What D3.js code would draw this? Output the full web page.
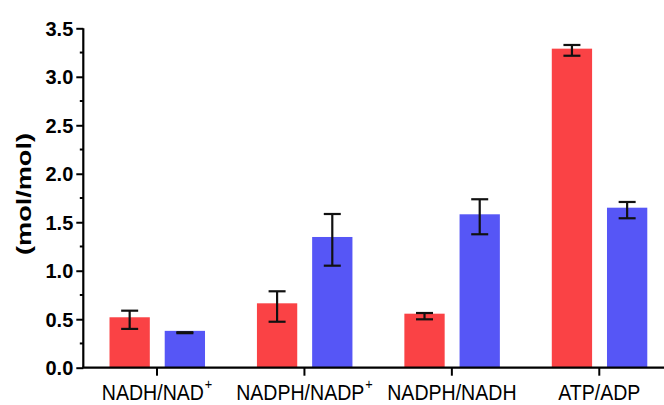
<!DOCTYPE html>
<html><head><meta charset="utf-8">
<script src="https://cdn.jsdelivr.net/npm/d3@7"></script>
<style>body{margin:0;background:#fff}svg{display:block}</style>
</head><body>
<svg id="c" width="664" height="405"></svg>
<script>
const categories = ["NADH/NAD", "NADPH/NADP", "NADPH/NADH", "ATP/ADP"];
const superscripts = ["+", "+", "", ""];
const seriesNames = ["A", "B"];
const redValues = [0.52, 0.664, 0.557, 3.29];
const redErrLow = [0.40, 0.474, 0.499, 3.217];
const redErrHigh = [0.588, 0.788, 0.564, 3.328];
const blueValues = [0.38, 1.348, 1.582, 1.65];
const blueErrLow = [0.356, 1.052, 1.376, 1.541];
const blueErrHigh = [0.366, 1.585, 1.737, 1.709];
const yTicks = [0, 0.5, 1.0, 1.5, 2.0, 2.5, 3.0, 3.5];
const yMinorTicks = [0.25, 0.75, 1.25, 1.75, 2.25, 2.75, 3.25];
const colors = ["#fa4245", "#5656f6"];

const svg = d3.select("#c");
const x0 = 83.3, y0 = 367.7;
const x = d3.scaleBand().domain(categories).range([x0, 673]).paddingInner(0).paddingOuter(0);
const xs = d3.scaleBand().domain(seriesNames).range([x.bandwidth()/2 - 47.5, x.bandwidth()/2 + 48]).paddingInner(0.27).paddingOuter(0);
const y = d3.scaleLinear().domain([0, 3.5]).range([y0, 28.3]);

const data = categories.map((c, i) => [
  {cat: c, s: "A", v: redValues[i], lo: redErrLow[i], hi: redErrHigh[i], col: colors[0]},
  {cat: c, s: "B", v: blueValues[i], lo: blueErrLow[i], hi: blueErrHigh[i], col: colors[1]}
]).flat();

// bars
svg.append("g").selectAll("rect").data(data).join("rect")
  .attr("x", d => x(d.cat) + xs(d.s))
  .attr("width", xs.bandwidth())
  .attr("y", d => y(d.v))
  .attr("height", d => y(0) - y(d.v))
  .attr("fill", d => d.col);

// error bars
const eg = svg.append("g").attr("stroke", "#111").attr("stroke-width", 2.2).attr("fill", "none");
data.forEach(d => {
  const cx = x(d.cat) + xs(d.s) + xs.bandwidth()/2;
  const cw = 8.5;
  eg.append("line").attr("x1", cx).attr("x2", cx).attr("y1", y(d.lo)).attr("y2", y(d.hi));
  eg.append("line").attr("x1", cx - cw).attr("x2", cx + cw).attr("y1", y(d.lo)).attr("y2", y(d.lo));
  eg.append("line").attr("x1", cx - cw).attr("x2", cx + cw).attr("y1", y(d.hi)).attr("y2", y(d.hi));
});

// y axis
const yAxis = svg.append("g").attr("transform", `translate(${x0},0)`)
  .call(d3.axisLeft(y).tickValues(yTicks).tickFormat(d3.format(".1f")).tickSize(7).tickPadding(3));
yAxis.select(".domain").attr("stroke", "#000").attr("stroke-width", 2.2).attr("d", `M0,${y(3.5)}H0V${y0}`);
yAxis.selectAll(".tick line").attr("stroke", "#000").attr("stroke-width", 2);
yAxis.selectAll(".tick text").attr("font-family", "Liberation Sans, Arial, sans-serif")
  .attr("font-weight", "bold").attr("font-size", 20).attr("fill", "#000").attr("dy", "0.36em");
svg.append("g").selectAll("line").data(yMinorTicks).join("line")
  .attr("x1", x0 - 3.5).attr("x2", x0).attr("y1", d => y(d)).attr("y2", d => y(d))
  .attr("stroke", "#000").attr("stroke-width", 2);

// x axis
const xAxis = svg.append("g").attr("transform", `translate(0,${y0})`)
  .call(d3.axisBottom(x).tickSize(8).tickFormat(""));
xAxis.select(".domain").attr("stroke", "#000").attr("stroke-width", 2.2).attr("d", `M${x0 - 1},0H673`);
xAxis.selectAll(".tick line").attr("stroke", "#000").attr("stroke-width", 2);

// x labels
const lab = svg.append("g");
categories.forEach((c, i) => {
  const cx = x(c) + x.bandwidth()/2;
  const g = lab.append("g").attr("transform", `translate(${cx},399.5) scale(0.91,1)`);
  const t = g.append("text").attr("text-anchor", "middle")
    .attr("font-family", "Liberation Sans, Arial, sans-serif").attr("font-size", 21.5).attr("fill", "#000");
  t.append("tspan").text(c);
  if (superscripts[i]) {
    t.append("tspan").attr("font-size", 14).attr("dy", -11).attr("dx", 1).text(superscripts[i]);
  }
});

// y label
svg.append("text").attr("transform", "translate(24,194) rotate(-90)")
  .attr("text-anchor", "middle").attr("dominant-baseline", "central")
  .attr("font-family", "Liberation Sans, Arial, sans-serif")
  .attr("font-weight", "bold").attr("font-size", 20).attr("fill", "#000")
  .attr("textLength", 122).attr("lengthAdjust", "spacingAndGlyphs").text("(mol/mol)");
</script>
</body></html>
